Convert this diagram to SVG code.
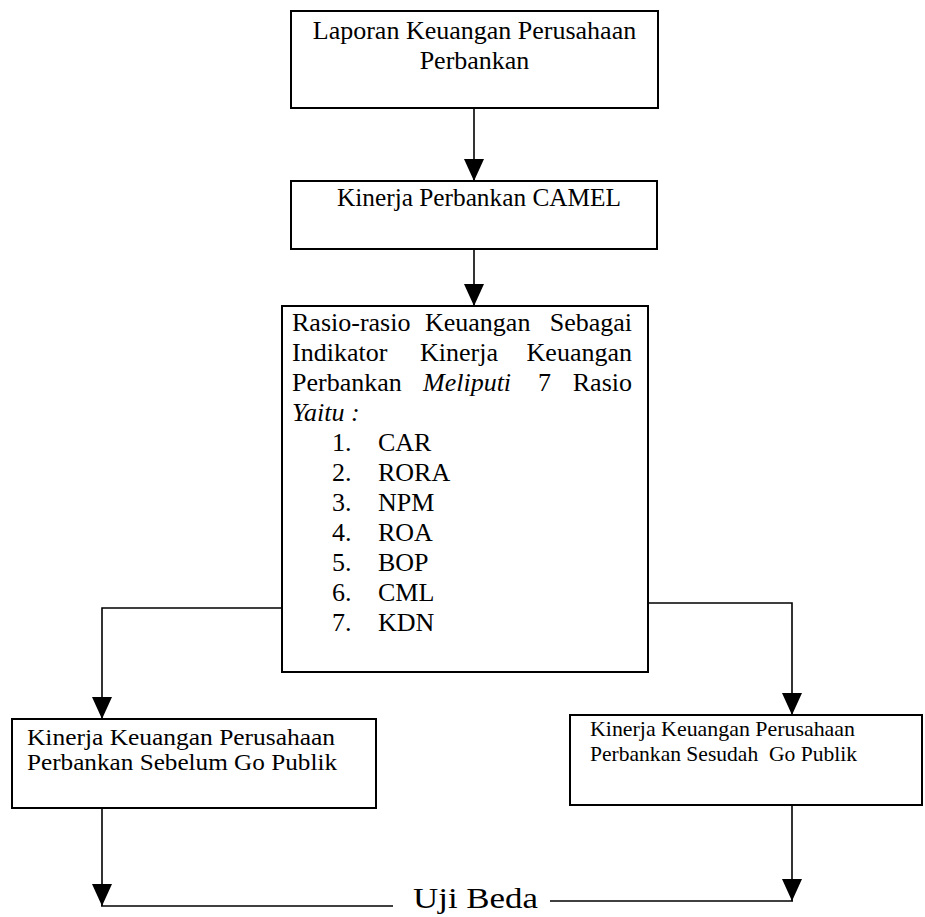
<svg xmlns="http://www.w3.org/2000/svg" width="925" height="917" viewBox="0 0 925 917">
<defs>
<style>
.box{fill:#fff;stroke:#000;stroke-width:2}
.t{font-family:"Liberation Serif","Times New Roman",serif;font-size:26px;fill:#000}
.tl{font-family:"Liberation Serif","Times New Roman",serif;font-size:24px;fill:#000}
.tr{font-family:"Liberation Serif","Times New Roman",serif;font-size:22px;fill:#000}
.i{font-style:italic}
.c{fill:none;stroke:#000;stroke-width:1.6}
</style>
<marker id="ah" markerUnits="userSpaceOnUse" markerWidth="22" markerHeight="20" refX="22" refY="10" orient="auto">
<path d="M0,0 L22,10 L0,20 Z" fill="#000"/>
</marker>
</defs>
<rect width="925" height="917" fill="#fff"/>
<g id="n1">
<rect class="box" x="291" y="11" width="367" height="97"/>
<text class="t" x="474.5" y="39" text-anchor="middle">Laporan Keuangan Perusahaan</text>
<text class="t" x="474.5" y="69" text-anchor="middle">Perbankan</text>
</g>
<g id="n2">
<rect class="box" x="291" y="181" width="366" height="68"/>
<text class="t" x="337" y="206" textLength="284" lengthAdjust="spacingAndGlyphs">Kinerja Perbankan CAMEL</text>
</g>
<g id="n3">
<rect class="box" x="282" y="306" width="366" height="366"/>
<text class="t" y="331"><tspan x="292">Rasio-rasio</tspan><tspan x="425">Keuangan</tspan><tspan x="632" text-anchor="end">Sebagai</tspan></text>
<text class="t" y="361"><tspan x="292">Indikator</tspan><tspan x="420">Kinerja</tspan><tspan x="632" text-anchor="end">Keuangan</tspan></text>
<text class="t" y="391"><tspan x="292">Perbankan</tspan><tspan x="423" class="i">Meliputi</tspan><tspan x="538">7</tspan><tspan x="632" text-anchor="end">Rasio</tspan></text>
<text class="t i" x="292" y="421">Yaitu :</text>
<text class="t" y="451"><tspan x="332">1.</tspan><tspan x="378">CAR</tspan></text>
<text class="t" y="481"><tspan x="332">2.</tspan><tspan x="378">RORA</tspan></text>
<text class="t" y="511"><tspan x="332">3.</tspan><tspan x="378">NPM</tspan></text>
<text class="t" y="541"><tspan x="332">4.</tspan><tspan x="378">ROA</tspan></text>
<text class="t" y="571"><tspan x="332">5.</tspan><tspan x="378">BOP</tspan></text>
<text class="t" y="601"><tspan x="332">6.</tspan><tspan x="378">CML</tspan></text>
<text class="t" y="631"><tspan x="332">7.</tspan><tspan x="378">KDN</tspan></text>
</g>
<g id="n4">
<rect class="box" x="12" y="719" width="364" height="89"/>
<text class="tl" x="27" y="745" textLength="308" lengthAdjust="spacingAndGlyphs">Kinerja Keuangan Perusahaan</text>
<text class="tl" x="27" y="770" textLength="310" lengthAdjust="spacingAndGlyphs">Perbankan Sebelum Go Publik</text>
</g>
<g id="n5">
<rect class="box" x="570" y="715" width="352" height="90"/>
<text class="tr" x="590" y="736" textLength="265" lengthAdjust="spacingAndGlyphs">Kinerja Keuangan Perusahaan</text>
<text class="tr" x="590" y="761" textLength="267" lengthAdjust="spacingAndGlyphs" xml:space="preserve">Perbankan Sesudah  Go Publik</text>
</g>
<g id="n6">
<text x="413" y="908" font-family="'Liberation Serif','Times New Roman',serif" font-size="30" textLength="125" lengthAdjust="spacingAndGlyphs">Uji Beda</text>
</g>
<g id="connectors">
<line class="c" x1="474" y1="108" x2="474" y2="181" marker-end="url(#ah)"/>
<line class="c" x1="474" y1="249" x2="474" y2="306" marker-end="url(#ah)"/>
<polyline class="c" points="282,608 102,608 102,719" marker-end="url(#ah)"/>
<polyline class="c" points="648,603 792,603 792,715" marker-end="url(#ah)"/>
<line class="c" x1="102" y1="808" x2="102" y2="906" marker-end="url(#ah)"/>
<line class="c" x1="101" y1="906" x2="393" y2="906"/>
<line class="c" x1="792" y1="805" x2="792" y2="901" marker-end="url(#ah)"/>
<line class="c" x1="550" y1="901" x2="793" y2="901"/>
</g>
</svg>
